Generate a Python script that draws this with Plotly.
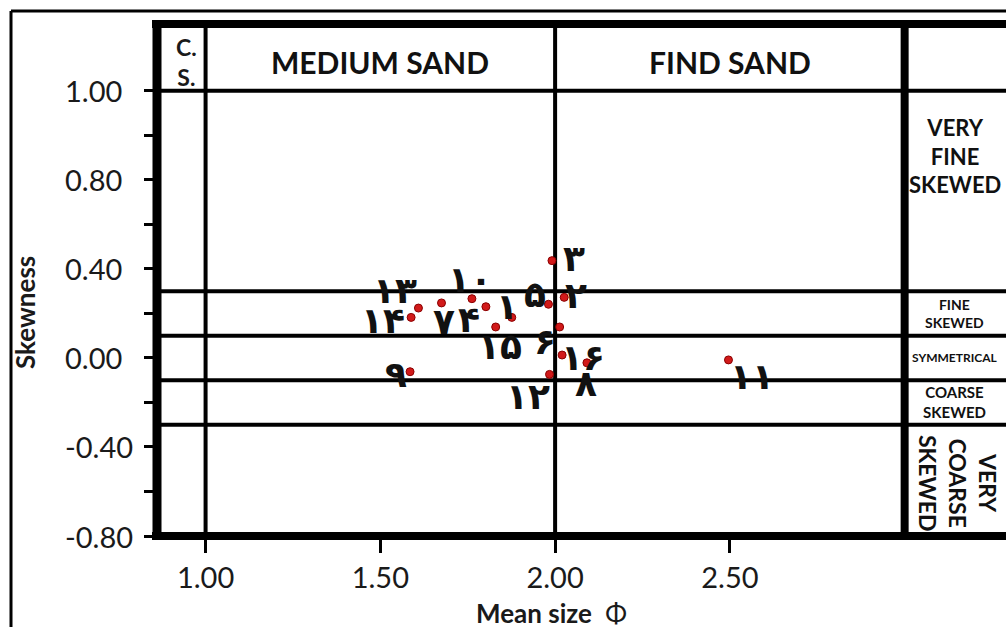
import plotly.graph_objects as go

# Sample numbers and their grain-size statistics
sample_ids = [1, 2, 3, 4, 5, 6, 7, 8, 9, 10, 11, 12, 13, 14, 15, 16]
mean_size = [1.876, 2.026, 1.991, 1.802, 1.981, 2.013, 1.675, 2.091,
             1.585, 1.762, 2.496, 1.984, 1.609, 1.588, 1.830, 2.020]
skewness = [0.182, 0.272, 0.437, 0.230, 0.241, 0.139, 0.247, -0.022,
            -0.062, 0.266, -0.009, -0.074, 0.224, 0.182, 0.139, 0.013]

# Axis ticks
x_ticks = [1.0, 1.5, 2.0, 2.5]
x_tick_text = ["1.00", "1.50", "2.00", "2.50"]
y_ticks = [1.2, 1.0, 0.8, 0.6, 0.4, 0.2, 0.0, -0.2, -0.4, -0.6, -0.8]
y_tick_text = ["1.00", "", "0.80", "", "0.40", "", "0.00", "", "-0.40", "", "-0.80"]

# Classification boundaries
size_bounds = [1.0, 2.0]
size_classes = ["MEDIUM SAND", "FIND SAND"]
skew_bounds = [1.2, 0.3, 0.1, -0.1, -0.3]
class_col_edge = 3.0

# Offsets of each number label from its point (pixels: right, down)
label_offsets = [(-5, -11), (12, -2), (22, -2), (-17, 13), (-13, -10), (-15, 15),
                 (2, 19), (-1, 21), (-14, 3), (-2, -19), (24, 17), (-22, 22),
                 (-23, -18), (-28, 3), (4, 20), (21, 2)]

PERSIAN = str.maketrans("0123456789", "۰۱۲۳۴۵۶۷۸۹")

W, H = 1006, 627
ML, MR, MT, MB = 157, 0, 24, 91
PW, PH = W - ML - MR, H - MT - MB
X_RANGE = [0.861, 3.290]
Y_RANGE = [-0.8, 1.5]


def px_x(p):
    return (p - ML) / PW


def px_y(p):
    return (H - MB - p) / PH


fig = go.Figure()
fig.add_trace(go.Scatter(
    x=mean_size, y=skewness, mode="markers",
    marker=dict(size=8, color="#D11A1A", line=dict(width=1, color="#8B0000")),
    hoverinfo="skip", showlegend=False,
))

shapes = []
# class boundary lines
for yb in skew_bounds:
    shapes.append(dict(type="line", xref="paper", yref="y", x0=0, x1=1, y0=yb, y1=yb,
                       line=dict(color="black", width=4), layer="below"))
for xb in size_bounds:
    shapes.append(dict(type="line", xref="x", yref="paper", x0=xb, x1=xb, y0=0, y1=1,
                       line=dict(color="black", width=4), layer="below"))
shapes.append(dict(type="line", xref="x", yref="paper", x0=class_col_edge, x1=class_col_edge,
                   y0=0, y1=1, line=dict(color="black", width=8), layer="below"))
# heavy frame
shapes += [
    dict(type="line", xref="paper", yref="paper", x0=0, x1=0, y0=px_y(540), y1=px_y(20),
         line=dict(color="black", width=9)),
    dict(type="line", xref="paper", yref="paper", x0=px_x(152), x1=1, y0=1, y1=1,
         line=dict(color="black", width=8)),
    dict(type="line", xref="paper", yref="paper", x0=px_x(152), x1=1, y0=0, y1=0,
         line=dict(color="black", width=8)),
]
# thin outer border
shapes += [
    dict(type="line", xref="paper", yref="paper", x0=px_x(11), x1=1, y0=px_y(11), y1=px_y(11),
         line=dict(color="black", width=3)),
    dict(type="line", xref="paper", yref="paper", x0=px_x(11), x1=px_x(11), y0=px_y(11), y1=px_y(627),
         line=dict(color="black", width=3)),
]

ann = []
LATO = "Lato"
# y tick labels, left aligned
for v, t in zip(y_ticks, y_tick_text):
    if t:
        ann.append(dict(xref="paper", yref="y", x=px_x(63), y=v, text=t, showarrow=False,
                        xanchor="left", yanchor="middle",
                        font=dict(family=LATO, size=29, color="#1a1a1a")))
# axis titles
ann.append(dict(xref="paper", yref="paper", x=px_x(25), y=px_y(313), text="<b>Skewness</b>",
                textangle=-90, showarrow=False, xanchor="center", yanchor="middle",
                font=dict(family=LATO, size=26, color="#1a1a1a")))
ann.append(dict(xref="paper", yref="paper", x=px_x(551), y=px_y(613),
                text="<b>Mean size</b>  Φ", showarrow=False, xanchor="center", yanchor="middle",
                font=dict(family=LATO, size=26, color="#1a1a1a")))

# size class headings
band_mid = 1.33
ann.append(dict(x=0.945, y=band_mid, text="<b>C.<br>S.</b>", showarrow=False,
                font=dict(family=LATO, size=23, color="#1a1a1a")))
ann.append(dict(x=1.5, y=band_mid, text="<b>%s</b>" % size_classes[0], showarrow=False,
                font=dict(family=LATO, size=30, color="#111")))
ann.append(dict(x=2.5, y=band_mid, text="<b>%s</b>" % size_classes[1], showarrow=False,
                font=dict(family=LATO, size=30, color="#111")))

# skewness class labels
col_x = 3.144
ann.append(dict(x=col_x, y=0.907, text="<b>VERY<br>FINE<br>SKEWED</b>", showarrow=False,
                font=dict(family=LATO, size=22, color="#111")))
ann.append(dict(x=col_x, y=0.2, text="<b>FINE<br>SKEWED</b>", showarrow=False,
                font=dict(family=LATO, size=14, color="#111")))
ann.append(dict(x=col_x, y=0.0, text="<b>SYMMETRICAL</b>", showarrow=False,
                font=dict(family=LATO, size=12, color="#111")))
ann.append(dict(x=col_x, y=-0.2, text="<b>COARSE<br>SKEWED</b>", showarrow=False,
                font=dict(family=LATO, size=15, color="#111")))
ann.append(dict(x=3.153, y=-0.562, text="<b>VERY<br>COARSE<br>SKEWED</b>", textangle=90,
                showarrow=False, font=dict(family=LATO, size=23, color="#111")))

# sample number labels
for sid, xv, yv, (dx, dy) in zip(sample_ids, mean_size, skewness, label_offsets):
    ann.append(dict(x=xv, y=yv, text="<b>%s</b>" % str(sid).translate(PERSIAN),
                    showarrow=False, xshift=dx, yshift=-dy,
                    font=dict(family="DejaVu Sans", size=36, color="#111")))

fig.update_layout(
    width=W, height=H,
    margin=dict(l=ML, r=MR, t=MT, b=MB, pad=0),
    paper_bgcolor="white", plot_bgcolor="white",
    shapes=shapes, annotations=ann,
    xaxis=dict(range=X_RANGE, showgrid=False, zeroline=False, showline=False,
               tickmode="array", tickvals=x_ticks, ticktext=x_tick_text,
               ticks="outside", ticklen=16, tickwidth=3, tickcolor="black",
               tickfont=dict(family=LATO, size=29, color="#1a1a1a")),
    yaxis=dict(range=Y_RANGE, showgrid=False, zeroline=False, showline=False,
               tickmode="array", tickvals=y_ticks, ticktext=[""] * len(y_ticks),
               ticks="outside", ticklen=12, tickwidth=3, tickcolor="black"),
)

fig.write_html("out.html")
